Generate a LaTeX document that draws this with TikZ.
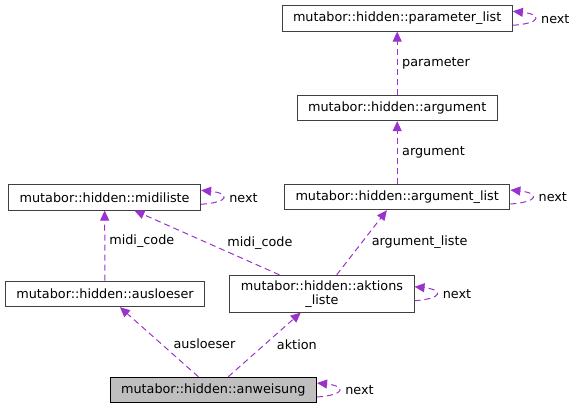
\documentclass[tikz,border=0pt]{standalone}
\usepackage{fontspec}
\setmainfont{DejaVu Sans}
\usetikzlibrary{arrows.meta, positioning}
\definecolor{depcolor}{HTML}{9A32CD}
\definecolor{focusgray}{HTML}{BFBFBF}

\begin{document}
\begin{tikzpicture}[x=1pt, y=-1pt, >={Triangle[length=10pt, width=9pt]}, line width=1pt,
    cls/.style={draw=black!75, fill=white, font=\fontsize{12.8}{14}\selectfont, inner xsep=11pt, inner ysep=5pt, minimum height=25.5pt, align=center},
    dep/.style={->, draw=depcolor, dash pattern=on 6pt off 4pt},
    lbl/.style={font=\fontsize{12.8}{14}\selectfont, inner sep=0pt, anchor=west},
    selfloop/.style={to path={([yshift=-7pt]\tikztostart.east) .. controls +(29,-2) and +(29,3) .. ([yshift=7pt]\tikztotarget.east) \tikztonodes}}]
      \useasboundingbox (0,0) rectangle (576,409);

      \node[cls] (pl) at (397.2,18.3) {mutabor::hidden::parameter\_list};
      \node[cls] (arg) at (397.2,107.9) {mutabor::hidden::argument};
      \node[cls] (al) at (397.2,197) {mutabor::hidden::argument\_list};
      \node[cls] (midi) at (104.6,197.3) {mutabor::hidden::midiliste};
      \node[cls] (aus) at (105,293.9) {mutabor::hidden::ausloeser};
      \node[cls] (akt) at (322,293.7) {mutabor::hidden::aktions\\\_liste};
      \node[cls, fill=focusgray, draw=black] (an) at (213.3,390) {mutabor::hidden::anweisung};

      \path (arg) edge [dep] node[lbl, xshift=4.5pt] {parameter} (pl)
            (al) edge [dep] node[lbl, xshift=4.5pt] {argument} (arg)
            (aus) edge [dep] node[lbl, xshift=4pt, yshift=4.5pt] {midi\_code} (midi)
            (akt) edge [dep] node[lbl, xshift=20pt] {midi\_code} (midi)
            (akt) edge [dep] node[lbl, xshift=9.5pt] {argument\_liste} (al)
            (an) edge [dep] node[lbl, xshift=14pt, yshift=-2pt] {ausloeser} (aus)
            (an) edge [dep] node[lbl, xshift=12pt] {aktion} (akt)
            (pl) edge [dep, selfloop] node[lbl, xshift=6pt] {next} (pl)
            (al) edge [dep, selfloop] node[lbl, xshift=6pt] {next} (al)
            (midi) edge [dep, selfloop] node[lbl, xshift=6pt] {next} (midi)
            (akt) edge [dep, selfloop] node[lbl, xshift=6pt] {next} (akt)
            (an) edge [dep, selfloop] node[lbl, xshift=6pt] {next} (an)
            ;
    \end{tikzpicture}
\end{document}
